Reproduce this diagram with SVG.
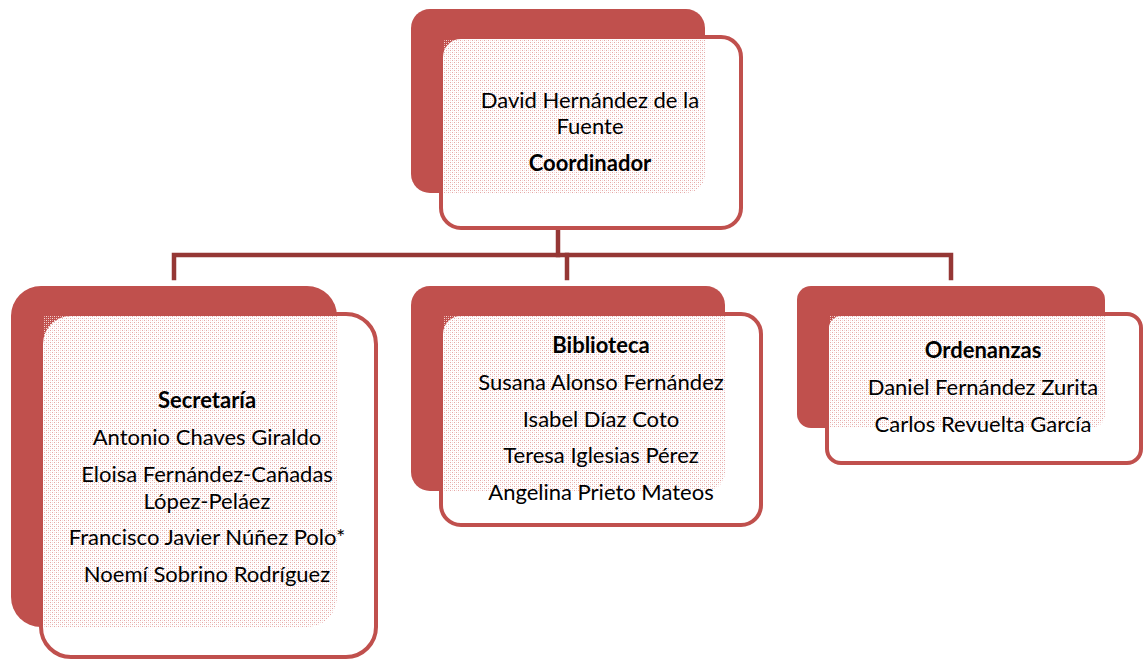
<svg xmlns="http://www.w3.org/2000/svg" width="1144" height="660" viewBox="0 0 1144 660">
<defs>
<pattern id="dots" width="4" height="4" patternUnits="userSpaceOnUse">
<rect x="0" y="0" width="1" height="1" fill="#E6A8A6"/>
<rect x="2" y="2" width="1" height="1" fill="#E6A8A6"/>
<rect x="2" y="0" width="1" height="1" fill="#F5DCDB"/>
<rect x="0" y="2" width="1" height="1" fill="#F5DCDB"/>
</pattern>
<style>
.back{fill:#C0504D;}
.front{fill:#FFFFFF;stroke:#C0504D;stroke-width:4;}
.pat{fill:url(#dots);}
.conn{fill:none;stroke:#953735;stroke-width:4.5;stroke-linecap:square;}
text{font-family:Lato,"Open Sans","Liberation Sans",sans-serif;font-size:22px;fill:#000;text-anchor:middle;}
.b{font-weight:bold;}
</style>
</defs>
<g id="connectors">
<path class="conn" d="M558,230 V255"/>
<path class="conn" d="M174,278 V255 H951 V278"/>
<path class="conn" d="M567,255 V278"/>
</g>
<g id="coordinador">
<rect class="back" x="411" y="9" width="294" height="184" rx="19"/>
<rect class="front" x="441" y="37" width="300" height="191" rx="20"/>
<path class="pat" d="M443,39 H705 V174 A19,19 0 0 1 686,193 H443 Z"/>
<text x="590" y="108">David Hernández de la</text>
<text x="590" y="134">Fuente</text>
<text class="b" x="590" y="171">Coordinador</text>
</g>
<g id="secretaria">
<rect class="back" x="11" y="286" width="326" height="341" rx="30"/>
<rect class="front" x="41" y="314" width="335" height="343" rx="30"/>
<path class="pat" d="M43,316 H337 V597 A30,30 0 0 1 307,627 H43 Z"/>
<text class="b" x="207" y="408">Secretaría</text>
<text x="207" y="445">Antonio Chaves Giraldo</text>
<text x="207" y="482">Eloisa Fernández-Cañadas</text>
<text x="207" y="509">López-Peláez</text>
<text x="207" y="545">Francisco Javier Núñez Polo*</text>
<text x="207" y="582">Noemí Sobrino Rodríguez</text>
</g>
<g id="biblioteca">
<rect class="back" x="411" y="286" width="314" height="205" rx="19"/>
<rect class="front" x="441" y="314" width="320" height="211" rx="20"/>
<path class="pat" d="M443,316 H725 V472 A19,19 0 0 1 706,491 H443 Z"/>
<text class="b" x="601" y="353">Biblioteca</text>
<text x="601" y="390">Susana Alonso Fernández</text>
<text x="601" y="427">Isabel Díaz Coto</text>
<text x="601" y="463">Teresa Iglesias Pérez</text>
<text x="601" y="500">Angelina Prieto Mateos</text>
</g>
<g id="ordenanzas">
<rect class="back" x="797" y="286" width="308" height="142" rx="14"/>
<rect class="front" x="827" y="314" width="314" height="149" rx="14"/>
<path class="pat" d="M829,316 H1105 V414 A14,14 0 0 1 1091,428 H829 Z"/>
<text class="b" x="983" y="358">Ordenanzas</text>
<text x="983" y="395">Daniel Fernández Zurita</text>
<text x="983" y="432">Carlos Revuelta García</text>
</g>
</svg>
